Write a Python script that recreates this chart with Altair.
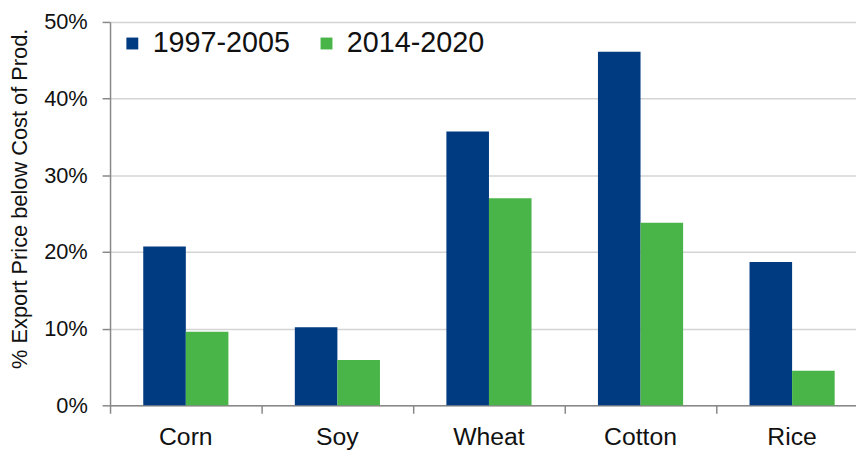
import altair as alt
import pandas as pd

crops = ["Corn", "Soy", "Wheat", "Cotton", "Rice"]
periods = ["1997-2005", "2014-2020"]
early = [0.207, 0.102, 0.357, 0.461, 0.187]
late = [0.096, 0.059, 0.270, 0.238, 0.045]
colors = ["#003a80", "#49b548"]

rows = []
for i, c in enumerate(crops):
    rows.append({"crop": c, "period": periods[0], "value": early[i]})
    rows.append({"crop": c, "period": periods[1], "value": late[i]})
df = pd.DataFrame(rows)

FONT = "Liberation Sans"

chart = alt.Chart(df).mark_bar().encode(
    x=alt.X("crop:N", sort=crops, title=None,
            scale=alt.Scale(paddingInner=0, paddingOuter=0, range=[0, 765]),
            axis=alt.Axis(labelAngle=0, labelFontSize=25, labelFont=FONT,
                          labelColor="#111", labelPadding=12, tickSize=8,
                          tickColor="#888", domainColor="#888", domainWidth=1.5,
                          tickWidth=1.5, bandPosition=0, ticks=True)),
    xOffset=alt.XOffset("period:N", sort=periods,
                        scale=alt.Scale(paddingInner=0, paddingOuter=0.78)),
    y=alt.Y("value:Q", title="% Export Price below Cost of Prod.",
            scale=alt.Scale(domain=[0, 0.5]),
            axis=alt.Axis(format=".0%", values=[0, 0.1, 0.2, 0.3, 0.4, 0.5],
                          labelFontSize=22, labelFont=FONT, labelColor="#111",
                          labelPadding=15, tickSize=8, tickColor="#888",
                          tickWidth=1.5, domainColor="#888", domainWidth=1.5,
                          titleFontSize=22, titleFont=FONT, titleFontWeight="normal",
                          titleColor="#111", titlePadding=12, titleY=178,
                          gridColor="#d4d4d4", gridWidth=1.5)),
    color=alt.Color("period:N", sort=periods,
                    scale=alt.Scale(domain=periods, range=colors),
                    legend=alt.Legend(title=None, orient="none", legendX=8, legendY=7,
                                      direction="horizontal", symbolType="square",
                                      symbolSize=144, symbolStrokeWidth=0,
                                      labelFontSize=29, labelFont=FONT,
                                      labelColor="#111", labelOffset=6,
                                      columnPadding=22)),
).properties(
    width=753, height=387,
    autosize=alt.AutoSizeParams(type="none"),
    padding={"left": 103, "top": 12, "right": 0, "bottom": 43},
).configure_view(stroke=None)

chart.save("out.html", embed_options={"renderer": "svg", "actions": False})
